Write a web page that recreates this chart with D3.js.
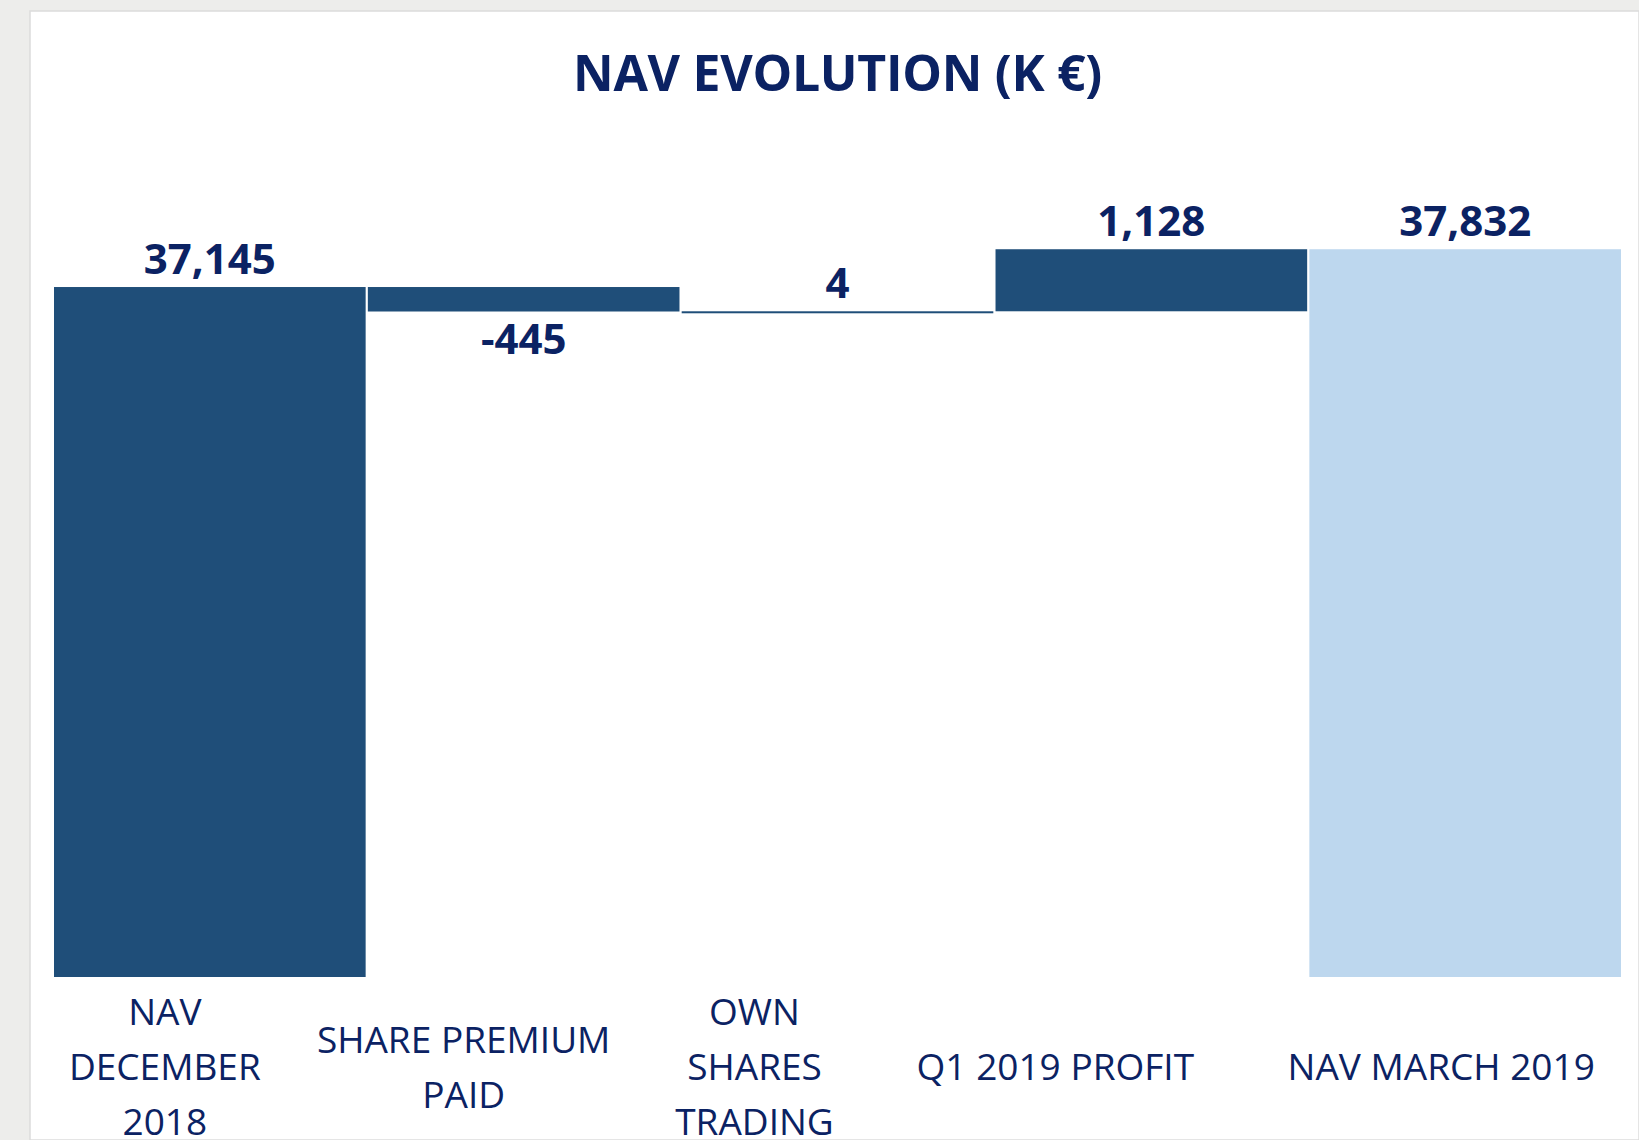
<!DOCTYPE html>
<html>
<head>
<meta charset="utf-8">
<script src="https://cdn.jsdelivr.net/npm/d3@7"></script>
<style>
  body { margin: 0; background: #ededeb; }
  text { font-family: "Open Sans", "Noto Sans", sans-serif; fill: #0b2263; }
</style>
</head>
<body>
<div id="vis1"></div>
<script>
// data
const CATEGORIES = ["NAV DECEMBER 2018", "SHARE PREMIUM PAID", "OWN SHARES TRADING", "Q1 2019 PROFIT", "NAV MARCH 2019"];
const CATEGORY_LINES = [["NAV", "DECEMBER", "2018"], ["SHARE PREMIUM", "PAID"], ["OWN", "SHARES", "TRADING"], ["Q1 2019 PROFIT"], ["NAV MARCH 2019"]];
const VALUES = [37145, -445, 4, 1128, 37832];
const IS_TOTAL = [true, false, false, false, true];
const VALUE_LABELS = ["37,145", "-445", "4", "1,128", "37,832"];

// frame constants
const FRAME_WIDTH = 1639;
const FRAME_HEIGHT = 1140;
const PLOT = {left: 54, right: 1621, top: 130, bottom: 977};
const Y_MIN = 24600;
const Y_MAX = 40000;
// category labels sit a bit left of the bar centres in the original slide
const CAT_LABEL_DX = [-45, -60, -83, -96, -24];

const DARK = "#1f4e79";
const LIGHT = "#bdd7ee";

// build waterfall steps
let running = 0;
const steps = VALUES.map((v, i) => {
  let start, end;
  if (IS_TOTAL[i]) { start = Y_MIN; end = v; running = v; }
  else { start = running; end = running + v; running = end; }
  return {cat: CATEGORIES[i], value: v, lo: Math.min(start, end), hi: Math.max(start, end),
          total: IS_TOTAL[i], label: VALUE_LABELS[i], lines: CATEGORY_LINES[i], dx: CAT_LABEL_DX[i]};
});

const FRAME1 = d3.select("#vis1")
                  .append("svg")
                    .attr("width", FRAME_WIDTH)
                    .attr("height", FRAME_HEIGHT);

// white slide panel
FRAME1.append("rect")
      .attr("x", 30).attr("y", 11)
      .attr("width", FRAME_WIDTH - 30).attr("height", FRAME_HEIGHT - 11)
      .attr("fill", "#ffffff")
      .attr("stroke", "#dcdcdc")
      .attr("stroke-width", 1.5);

// scales
const X_SCALE = d3.scaleBand()
                  .domain(CATEGORIES)
                  .range([PLOT.left, PLOT.right])
                  .paddingInner(0.007);

const Y_SCALE = d3.scaleLinear()
                  .domain([Y_MIN, Y_MAX])
                  .range([PLOT.bottom, PLOT.top]);

// title
FRAME1.append("text")
      .attr("x", (PLOT.left + PLOT.right) / 2)
      .attr("y", 91)
      .attr("text-anchor", "middle")
      .attr("font-size", 50)
      .attr("font-weight", 700)
      .attr("letter-spacing", -0.3)
      .text("NAV EVOLUTION (K \u20AC)");

// bars
FRAME1.selectAll(".bar")
      .data(steps)
      .enter()
      .append("rect")
        .attr("class", "bar")
        .attr("x", (d) => { return X_SCALE(d.cat); })
        .attr("y", (d) => { return Y_SCALE(d.hi); })
        .attr("width", X_SCALE.bandwidth())
        .attr("height", (d) => { return Math.max(2, Y_SCALE(d.lo) - Y_SCALE(d.hi)); })
        .attr("fill", (d, i) => { return i == steps.length - 1 ? LIGHT : DARK; });

// value labels: above for positives, below for negatives
FRAME1.selectAll(".val")
      .data(steps)
      .enter()
      .append("text")
        .attr("class", "val")
        .attr("x", (d) => { return X_SCALE(d.cat) + X_SCALE.bandwidth() / 2; })
        .attr("y", (d) => { return d.value < 0 ? Y_SCALE(d.lo) + 42 : Y_SCALE(d.hi) - 13; })
        .attr("text-anchor", "middle")
        .attr("font-size", 42)
        .attr("font-weight", 700)
        .text((d) => { return d.label; });

// category labels
const catG = FRAME1.selectAll(".cat")
      .data(steps)
      .enter()
      .append("text")
        .attr("class", "cat")
        .attr("x", (d) => { return X_SCALE(d.cat) + X_SCALE.bandwidth() / 2 + d.dx; })
        .attr("text-anchor", "middle")
        .attr("font-size", 37);

catG.selectAll("tspan")
    .data((d) => { return d.lines.map((l, j) => ({l: l, j: j, n: d.lines.length, x: X_SCALE(d.cat) + X_SCALE.bandwidth() / 2 + d.dx})); })
    .enter()
    .append("tspan")
      .attr("x", (t) => { return t.x; })
      .attr("y", (t) => { return 1080 + (t.j - (t.n - 1) / 2) * 55; })
      .text((t) => { return t.l; });
</script>
</body>
</html>
